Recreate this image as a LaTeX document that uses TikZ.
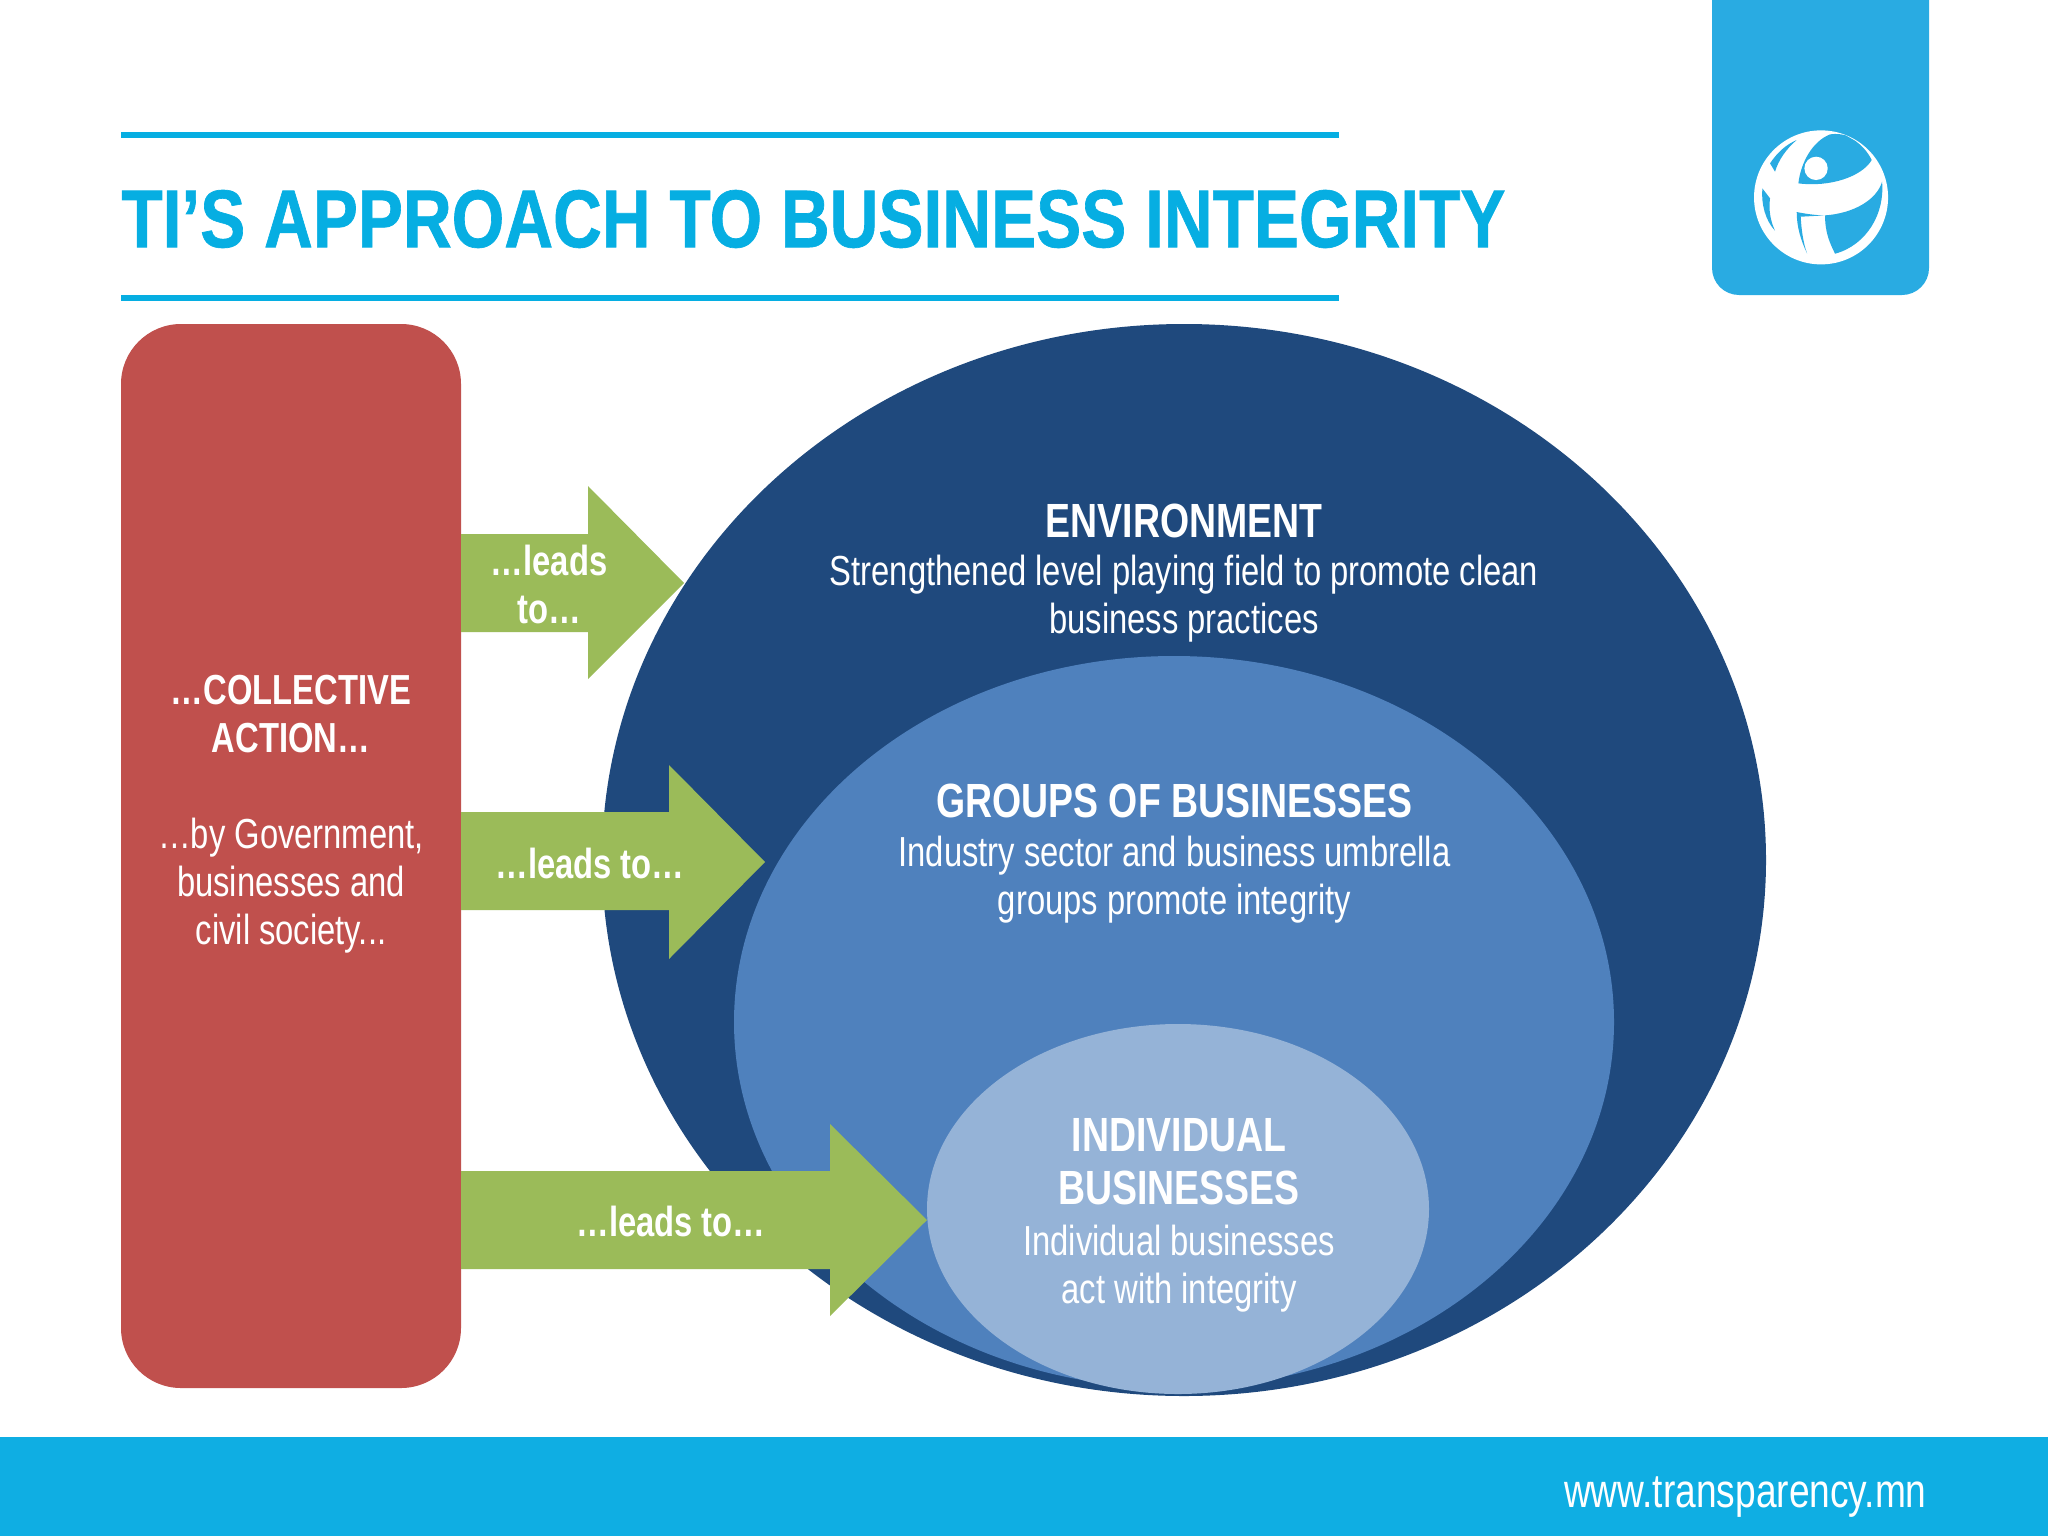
\documentclass[tikz,border=0pt]{standalone}
\usepackage{fontspec}
\setmainfont[FakeStretch=0.78]{Liberation Sans}
\newfontfamily\titlefont[FakeStretch=0.824,BoldFeatures={FakeBold=0.8}]{Liberation Sans}
\definecolor{tiblue}{HTML}{0FAEE3}
\definecolor{titleblue}{HTML}{06AEE2}
\definecolor{boxblue}{HTML}{29ABE2}
\definecolor{cared}{HTML}{C0504D}
\definecolor{cagreen}{HTML}{9BBB59}
\definecolor{envblue}{HTML}{1F497D}
\definecolor{grpblue}{HTML}{4F81BD}
\definecolor{indblue}{HTML}{95B3D7}
\newcommand{\headline}[1]{{\bfseries\fontsize{24}{24}\selectfont #1}}
\tikzset{
  rule/.style={line width=3pt,titleblue},
  label/.style={text=white,align=center,inner sep=0pt,
    font=\fontsize{21}{24}\selectfont},
  boldlabel/.style={label,font=\bfseries\fontsize{21}{24}\selectfont},
  arrowfill/.style={fill=cagreen},
}
\begin{document}
\begin{tikzpicture}[x=0.5pt,y=-0.5pt]
\useasboundingbox (0,0) rectangle (2048,1536);
% footer
\fill[tiblue] (0,1437) rectangle (2048,1536);
\node[anchor=east,text=white,inner sep=0pt,font=\fontsize{23.8}{24}\selectfont] (web) at (1927,1497) {www.transparency.mn};
% logo tab
\fill[boxblue] (1712,0) [rounded corners=13.5pt] -- (1712,295) -- (1929,295) [sharp corners] -- (1929,0) -- cycle;
\begin{scope}[shift={(1680,0)},x=0.1667pt,y=-0.1667pt]
  \fill[white] (423,592) circle[radius=201];
  \fill[boxblue] (355,550) .. controls (362,490) and (395,425) .. (450,403) .. controls (470,400) and (485,403) .. (497,406) -- (525,422) .. controls (550,440) and (565,460) .. (575,480) .. controls (545,530) and (450,562) .. (355,550) -- cycle;
  \fill[boxblue] (435,646) .. controls (520,640) and (590,600) .. (606,545) .. controls (615,640) and (560,735) .. (465,761) .. controls (450,730) and (435,700) .. (435,646) -- cycle;
  \fill[boxblue] (350,420) .. controls (315,435) and (290,460) .. (270,490) -- (285,515) .. controls (295,480) and (320,445) .. (350,420) -- cycle;
  \fill[boxblue] (247,565) -- (270,595) .. controls (265,630) and (272,665) .. (285,692) .. controls (255,660) and (243,610) .. (247,565) -- cycle;
  \fill[boxblue] (350,636) .. controls (380,642) and (410,646) .. (434,646) -- (362,650) .. controls (364,690) and (370,730) .. (381,760) .. controls (362,720) and (350,680) .. (350,636) -- cycle;
  \fill[white] (408,505) circle[radius=35];
\end{scope}
% title
\draw[rule] (121,135) -- (1339,135);
\draw[rule] (121,298) -- (1339,298);
\node[anchor=west,text=titleblue,inner sep=0pt,font=\titlefont\bfseries\fontsize{41}{48}\selectfont] (title) at (121,219) {TI’S APPROACH TO BUSINESS INTEGRITY};
% ellipses
\fill[envblue] (1184,860) ellipse[x radius=582,y radius=536];
\fill[grpblue] (1174,1022) ellipse[x radius=440,y radius=366];
\fill[indblue] (1178,1209) ellipse[x radius=251,y radius=185];
% red box
\fill[cared,rounded corners=30pt] (121,324) rectangle (461,1388);
% arrows
\fill[arrowfill] (461,534) -- (588,534) -- (588,486) -- (684,583) -- (588,679) -- (588,632) -- (461,632) -- cycle;
\fill[arrowfill] (461,812) -- (669,812) -- (669,765) -- (765,862) -- (669,959) -- (669,910) -- (461,910) -- cycle;
\fill[arrowfill] (461,1171) -- (830,1171) -- (830,1124) -- (927,1220) -- (830,1316) -- (830,1269) -- (461,1269) -- cycle;
% labels
\node[label] (env) at (1184,573) {\headline{ENVIRONMENT}\\[0.2pt]Strengthened level playing field to promote clean\\business practices};
\node[label] (grp) at (1174.5,853.5) {\headline{GROUPS OF BUSINESSES}\\[0.8pt]Industry sector and business umbrella\\groups promote integrity};
\node[label] (ind) at (1179,1215.5) {\headline{INDIVIDUAL}\\[2.5pt]\headline{BUSINESSES}\\[1.5pt]Individual businesses\\act with integrity};
\node[label] (act) at (291,814) {\textbf{…COLLECTIVE}\\\textbf{ACTION…}\\[24pt]…by Government,\\businesses and\\civil society...};
\node[boldlabel] (l1) at (549,584) {…leads\\to…};
\node[boldlabel] (l2) at (590,863) {…leads to…};
\node[boldlabel] (l3) at (671,1221) {…leads to…};
\end{tikzpicture}
\end{document}
